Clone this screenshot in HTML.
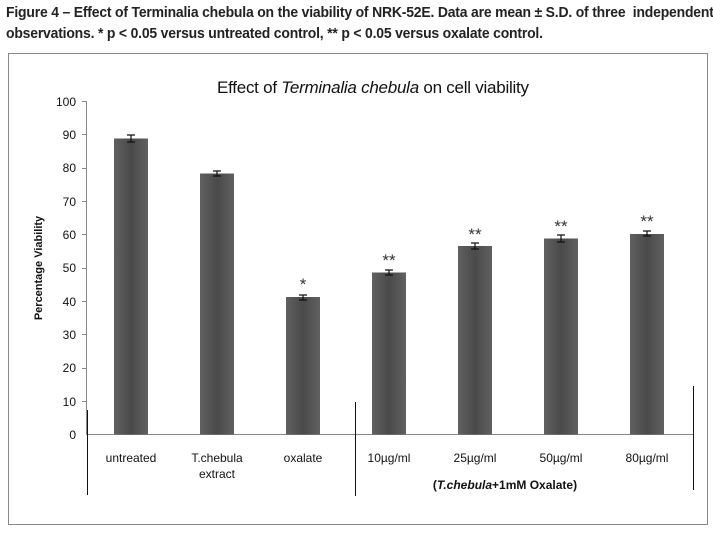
<!DOCTYPE html>
<html><head><meta charset="utf-8"><style>
body{margin:0;background:#fff;width:713px;height:534px;overflow:hidden;position:relative;font-family:"Liberation Sans",sans-serif}
.cap{position:absolute;left:6px;font-family:"Liberation Sans Narrow","Liberation Sans",sans-serif;font-weight:bold;font-size:15px;color:#222;letter-spacing:-0.2px;transform:scaleX(0.93);transform-origin:left;white-space:nowrap}
</style></head><body>
<div class="cap" style="top:4px">Figure 4 – Effect of Terminalia chebula on the viability of NRK-52E. Data are mean ± S.D. of three&nbsp; independent</div>
<div class="cap" style="top:25px">observations. * p &lt; 0.05 versus untreated control, ** p &lt; 0.05 versus oxalate control.</div>
<svg width="713" height="534" style="position:absolute;left:0;top:0" font-family="Liberation Sans, sans-serif">
<defs><linearGradient id="g" x1="0" x2="1"><stop offset="0" stop-color="#606060"/><stop offset="0.5" stop-color="#4a4a4a"/><stop offset="1" stop-color="#606060"/></linearGradient></defs>
<rect x="8.5" y="53.5" width="699" height="471" fill="none" stroke="#888" stroke-width="1"/>
<text x="373" y="93" font-size="17" text-anchor="middle" fill="#111" textLength="312">Effect of <tspan font-style="italic">Terminalia chebula</tspan> on cell viability</text>
<g font-size="12" fill="#111" text-anchor="end">
<text x="76" y="106">100</text><text x="76" y="139">90</text><text x="76" y="172">80</text><text x="76" y="206">70</text><text x="76" y="239">60</text><text x="76" y="272">50</text><text x="76" y="306">40</text><text x="76" y="339">30</text><text x="76" y="372">20</text><text x="76" y="406">10</text><text x="76" y="439">0</text>
</g>
<g stroke="#888"><line x1="86.5" y1="101" x2="86.5" y2="434"/>
<line x1="82" y1="101.5" x2="87" y2="101.5"/><line x1="82" y1="134.5" x2="87" y2="134.5"/><line x1="82" y1="168.5" x2="87" y2="168.5"/><line x1="82" y1="201.5" x2="87" y2="201.5"/><line x1="82" y1="234.5" x2="87" y2="234.5"/><line x1="82" y1="268.5" x2="87" y2="268.5"/><line x1="82" y1="301.5" x2="87" y2="301.5"/><line x1="82" y1="334.5" x2="87" y2="334.5"/><line x1="82" y1="368.5" x2="87" y2="368.5"/><line x1="82" y1="401.5" x2="87" y2="401.5"/>
<line x1="86" y1="434.5" x2="694" y2="434.5"/></g>
<g stroke="#111" stroke-width="1"><line x1="87.5" y1="410" x2="87.5" y2="495"/><line x1="355.5" y1="402" x2="355.5" y2="496"/><line x1="693.5" y1="386" x2="693.5" y2="490"/></g>
<text x="42" y="268" font-size="11" font-weight="bold" fill="#111" text-anchor="middle" transform="rotate(-90 42 268)">Percentage Viability</text>
<g fill="url(#g)">
<rect x="114" y="138.5" width="34" height="296"/>
<rect x="200" y="173.5" width="34" height="261"/>
<rect x="286" y="297" width="34" height="137.5"/>
<rect x="372" y="272.5" width="34" height="162"/>
<rect x="458" y="246" width="34" height="188.5"/>
<rect x="544" y="238.5" width="34" height="196"/>
<rect x="630" y="234" width="34" height="200.5"/>
</g>
<g stroke="#111" stroke-width="1.2">
<path d="M131 135v7M127 135h8M127 142h8"/>
<path d="M217 171v5M213 171h8M213 176h8"/>
<path d="M303 295v5M299 295h8M299 300h8"/>
<path d="M389 270v5M385 270h8M385 275h8"/>
<path d="M475 243v6M471 243h8M471 249h8"/>
<path d="M561 235v7M557 235h8M557 242h8"/>
<path d="M647 231v5M643 231h8M643 236h8"/>
</g>
<g font-size="17" fill="#333" text-anchor="middle">
<text x="303" y="290">*</text><text x="389" y="266">**</text><text x="475" y="240">**</text><text x="561" y="232">**</text><text x="647" y="227">**</text>
</g>
<g font-size="12" fill="#111" text-anchor="middle">
<text x="131" y="462">untreated</text><text x="217" y="462">T.chebula</text><text x="217" y="478">extract</text><text x="303" y="462">oxalate</text>
<text x="389" y="462">10µg/ml</text><text x="475" y="462">25µg/ml</text><text x="561" y="462">50µg/ml</text><text x="647" y="462">80µg/ml</text>
<text x="505" y="489" font-weight="bold">(<tspan font-style="italic">T.chebula</tspan>+1mM Oxalate)</text>
</g>
</svg>
</body></html>
